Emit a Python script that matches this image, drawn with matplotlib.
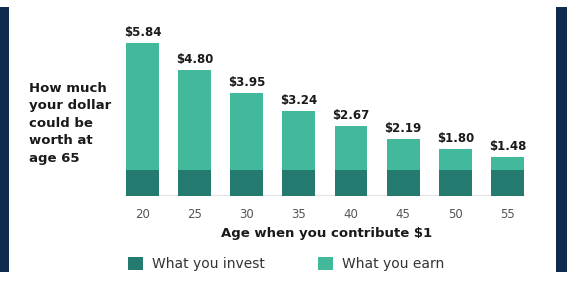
import matplotlib.pyplot as plt
from matplotlib.patches import Rectangle, Patch

ages = ['20', '25', '30', '35', '40', '45', '50', '55']
totals = [5.84, 4.80, 3.95, 3.24, 2.67, 2.19, 1.80, 1.48]
invest = [1.0] * len(ages)
earn = [t - i for t, i in zip(totals, invest)]

dark = '#247a6e'
light = '#43b99c'
navy = '#102b50'

W, H = 567, 281
fig = plt.figure(figsize=(W / 100, H / 100), dpi=100)

# axes placed in pixel coords (top-left origin converted)
left, right, top, bottom = 116.4, 533.5, 26, 196
ax = fig.add_axes([left / W, (H - bottom) / H, (right - left) / W, (bottom - top) / H])

x = range(len(ages))
ax.bar(x, invest, width=0.63, color=dark, edgecolor='none')
ax.bar(x, earn, width=0.63, bottom=invest, color=light, edgecolor='none')
ax.plot([-0.33, len(ages) - 1 + 0.33], [0, 0], color='#e3e3e3', lw=1.5,
        solid_capstyle='butt', zorder=0)

for xi, t in zip(x, totals):
    ax.annotate(f'${t:.2f}', (xi, t), xytext=(0, 3), textcoords='offset points',
                ha='center', va='bottom', fontsize=8.5, fontweight='bold',
                color='#1a1a1a')

ax.set_xlim(-0.5, len(ages) - 0.5)
ax.set_ylim(0, 6.5)
ax.set_xticks(list(x))
ax.set_xticklabels(ages)
ax.set_yticks([])
ax.tick_params(axis='x', length=0, pad=9, labelsize=8.5, labelcolor='#555555')
for s in ax.spines.values():
    s.set_visible(False)

fig.text(327 / W, 1 - 233 / H, 'Age when you contribute $1', ha='center',
         va='center', fontsize=9.5, fontweight='bold', color='#1a1a1a')

fig.text(29 / W, 1 - 82 / H, 'How much\nyour dollar\ncould be\nworth at\nage 65',
         ha='left', va='top', fontsize=9.5, fontweight='bold', color='#1a1a1a',
         linespacing=1.45)

handles = [Patch(facecolor=dark, label='What you invest'),
           Patch(facecolor=light, label='What you earn')]
fig.legend(handles=handles, loc='center left', bbox_to_anchor=(122 / W, 1 - 264 / H),
           ncol=2, frameon=False, fontsize=10, handlelength=1.1, handleheight=1.1,
           handletextpad=0.65, columnspacing=3.8, labelcolor='#333333',
           borderaxespad=0)

fig.add_artist(Rectangle((0, 1 - 272 / H), 9 / W, 265 / H, transform=fig.transFigure,
                         color=navy, lw=0))
fig.add_artist(Rectangle((556 / W, 1 - 272 / H), 11 / W, 265 / H,
                         transform=fig.transFigure, color=navy, lw=0))

fig.savefig('out.png', dpi=100)
